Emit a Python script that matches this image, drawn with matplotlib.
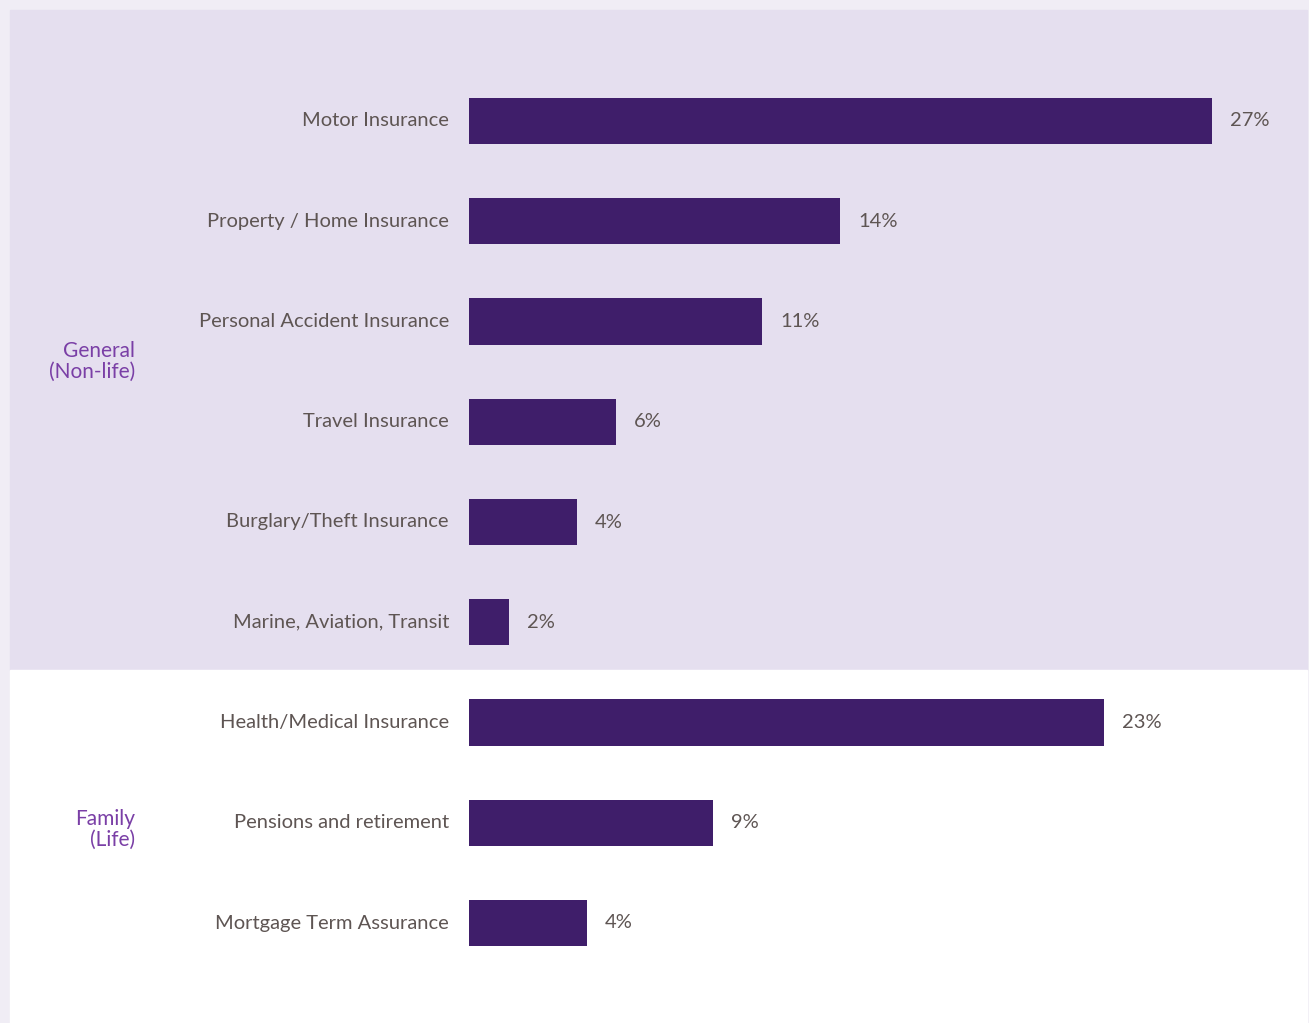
import numpy as np
import matplotlib
matplotlib.use('Agg')
import matplotlib.pyplot as plt
from matplotlib.patches import Rectangle

plt.rcParams['font.family'] = ['Lato', 'DejaVu Sans']

categories = ['Motor Insurance', 'Property / Home Insurance', 'Personal Accident Insurance',
              'Travel Insurance', 'Burglary/Theft Insurance', 'Marine, Aviation, Transit',
              'Health/Medical Insurance', 'Pensions and retirement', 'Mortgage Term Assurance']
# bar lengths as drawn (in %), and the labels printed next to them
values = [27.0, 13.5, 10.65, 5.35, 3.93, 1.45, 23.1, 8.87, 4.29]
value_labels = ['27%', '14%', '11%', '6%', '4%', '2%', '23%', '9%', '4%']
groups = ['General\n(Non-life)', 'Family\n(Life)']

W, H = 1309, 1023
bar_color = '#3f1e6a'
text_color = '#5e5553'
group_color = '#7a3fa6'
fs = 14.5

fig = plt.figure(figsize=(W / 100, H / 100), dpi=100)
fig.patch.set_facecolor('#f0edf5')

# shaded band behind the general (non-life) group, white behind the life group
fig.patches.append(Rectangle((10 / W, 1 - 670 / H), 1297 / W, 660 / H,
                             transform=fig.transFigure, color='#e5dfef', zorder=0))
fig.patches.append(Rectangle((10 / W, 0), 1297 / W, 1 - 670 / H,
                             transform=fig.transFigure, color='white', zorder=0))

px_per_unit = 27.5
ax = fig.add_axes([469 / W, 0, (1307 - 469) / W, 1], zorder=2)
ax.patch.set_alpha(0)
ypos = np.arange(len(categories))
ax.barh(ypos, values, height=0.46, color=bar_color)
ax.set_xlim(0, (1307 - 469) / px_per_unit)
ax.set_ylim((H - 121) / 100.25, -121 / 100.25)
ax.axis('off')

for i, (cat, v, lab) in enumerate(zip(categories, values, value_labels)):
    ax.annotate(cat, (0, i), xytext=(-14.4, 0), textcoords='offset points',
                ha='right', va='center', fontsize=fs, color=text_color,
                annotation_clip=False)
    ax.annotate(lab, (v, i), xytext=(13, 0), textcoords='offset points',
                ha='left', va='center', fontsize=fs, color=text_color)

fig.text(135 / W, 1 - 361 / H, groups[0], ha='right', va='center', fontsize=15,
         color=group_color, linespacing=1.05, zorder=3)
fig.text(135 / W, 1 - 829 / H, groups[1], ha='right', va='center', fontsize=15,
         color=group_color, linespacing=1.05, zorder=3)

fig.savefig('out.png', dpi=100, facecolor=fig.get_facecolor())
